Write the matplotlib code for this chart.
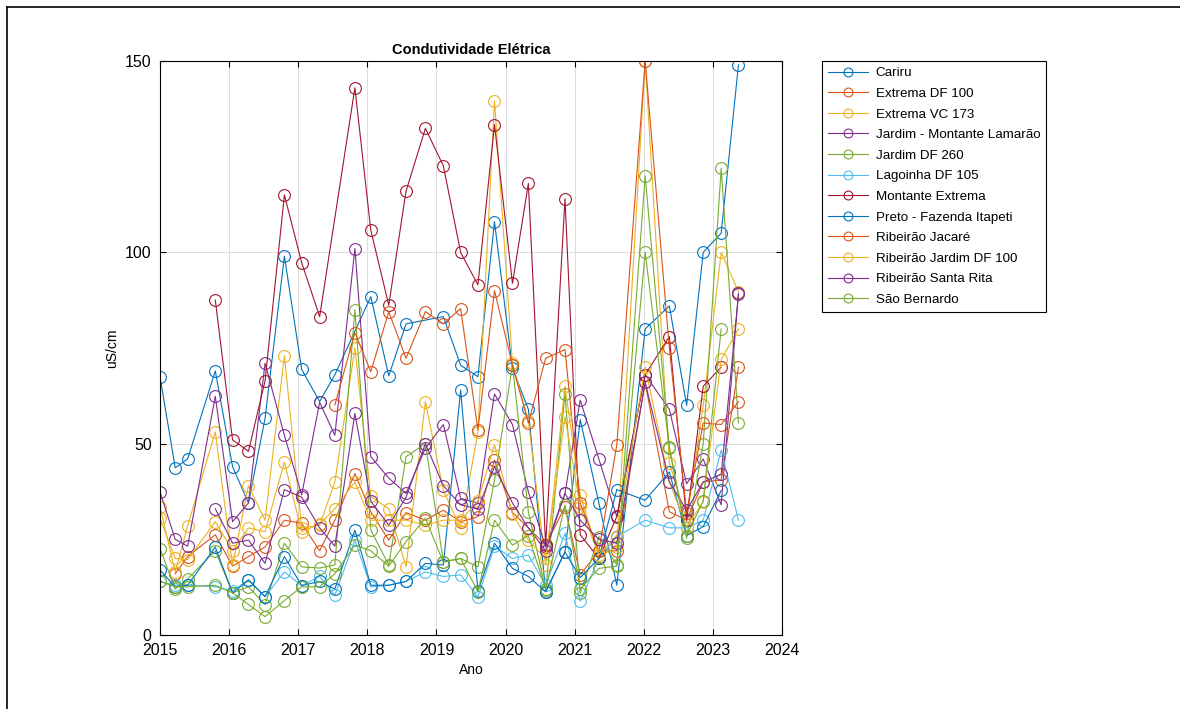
import numpy as np
import matplotlib
matplotlib.use("Agg")
import matplotlib.pyplot as plt
from matplotlib.lines import Line2D

plt.rcParams.update({
    "font.family": ["Liberation Sans", "DejaVu Sans"],
    "axes.linewidth": 0.8,
})

nan = np.nan

# sampling dates (decimal years)
dates = [2015.00, 2015.22, 2015.40, 2015.80, 2016.05, 2016.28, 2016.52, 2016.80,
         2017.05, 2017.31, 2017.53, 2017.82, 2018.05, 2018.31, 2018.56, 2018.84,
         2019.10, 2019.35, 2019.60, 2019.84, 2020.10, 2020.33, 2020.58, 2020.86,
         2021.08, 2021.35, 2021.61, 2022.02, 2022.37, 2022.62, 2022.86, 2023.12,
         2023.37]

stations = ["Cariru", "Extrema DF 100", "Extrema VC 173", "Jardim - Montante Lamarão",
            "Jardim DF 260", "Lagoinha DF 105", "Montante Extrema",
            "Preto - Fazenda Itapeti", "Ribeirão Jacaré", "Ribeirão Jardim DF 100",
            "Ribeirão Santa Rita", "São Bernardo"]

cariru = [67.5, 43.7, 46, 69, 44, 34.5, 56.6, 99, 69.4, 61, 68, nan, 88.4, 67.7, 81.3, nan,
          83.2, 70.5, 67.5, 108, 69.7, 59, 11.3, 21.7, 56.3, 34.5, 13, 80, 86, 60, 100, 105, 149]
extrema_df100 = [nan, 16, 20.5, 26.2, 18, 20.5, 23, 30, 29.2, 22, 30, 42.2, 32.2, 24.8, 32, 30,
                 32.6, 29.6, 30.9, 45.7, 32, 28, 23.5, 33.5, 15.7, 22, 22, 66, 32.2, 30, 40, 40.5, 70]
extrema_vc173 = [33.5, 16.5, 28.5, 53.1, 18.3, 39, 30, 73, 28, 28.7, 40, 75, 36.2, 33, 17.8, 61,
                 37.8, 28, 53, 139.6, 71, 56, 18.3, 65, 36.6, 20.5, 23, 150, 45, 30, 60, 100, 89.7]
jardim_lamarao = [37.4, 25, 23.2, 62.4, 29.6, 34.5, 71, 52.2, 36.6, 60.8, 52.2, 101, 46.6, 41, 37,
                  48.8, 55, 35.7, 34.5, 63, 55, 37.4, 23, 37, 61.4, 46, 30.9, 68, 59, 39.5, 46, 34, 89.3]
jardim_df260 = [22.6, 12, 14.7, 22, 11, 12.6, 7.9, 24, 17.8, 17.5, 18.3, 85, 27.4, 18.3, 46.6, 50,
                19.2, 20, 17.8, 40.5, 70.5, 32.2, 11.8, 63, 10.9, 25.7, 18.3, 120, 48.8, 25.3, 50, 122, 55.4]
lagoinha = [14, 13, 13, 12.6, 11.5, 14.4, 10, 16.5, 12.9, 15.3, 10.4, 24.8, 12.6, 13, 14, 16.5,
            15.3, 15.7, 10, 23.2, 20, 20.9, 13, 26.6, 8.8, 20, 25.7, 30, 28, 28, 30, 48.3, 30]
montante_extrema = [nan, nan, nan, 87.5, 51, 48, 66.4, 115, 97.3, 83.2, nan, 143, 105.8, 86.2, 116,
                    132.4, 122.6, 100, 91.5, 133.4, 91.9, 118, 23.5, 114, 26.2, 20, 31, 68, 78, 30, 65, 70, nan]
preto = [17, 12.6, 13, 23, 11, 14.4, 10, 20.5, 12.9, 14, 12, 27.4, 13, 13, 14, 18.7, 18.3, 64,
         11.5, 24, 17.4, 15.3, 11.3, 21.7, 15, 20, 38, 35.2, 42.6, 26, 28.3, 37.8, nan]
rib_jacare = [nan, nan, nan, nan, nan, nan, nan, nan, nan, nan, 60.1, 79, 68.8, 84.5, 72.3, 84.5,
              81.3, 85.3, 53.6, 90, 70.5, 55.4, 72.3, 74.6, 34.5, 22, 49.7, 150, 75, 32, 55.4, 55, 61]
rib_jardim_df100 = [30.5, 20, 19.7, 29.6, 22, 28, 27, 45.2, 27, 29, 33, 40, 30, 30, 30, 28.7, 30, 30,
                    35, 49.7, 31.5, 24.8, 20, 57, 33.5, 21, 26, 70, 40, 28.3, 34.8, 72, 80]
rib_santa_rita = [nan, nan, nan, 33, 24, 24.8, 18.7, 38, 36, 28, 23.2, 57.9, 35, 28.7, 36, 50,
                  39, 34, 33, 44, 34.5, 28, 22, 37, 30, 25, 24, 66, 40, 32.6, 40, 42, 89]
sao_bernardo = [14, 12.6, 12.6, 13, 11, 8, 4.8, 9, 12.6, 12.6, 16, 23.5, 22, 18, 24.4, 30.5, 19, 20,
                11.3, 30, 23.5, 26, 12, 34, 12, 17.4, 18, 100, 49, 26, 35, 80, nan]

series = [cariru, extrema_df100, extrema_vc173, jardim_lamarao, jardim_df260, lagoinha,
          montante_extrema, preto, rib_jacare, rib_jardim_df100, rib_santa_rita, sao_bernardo]

# MATLAB default color order
matlab_colors = ["#0072BD", "#D95319", "#EDB120", "#7E2F8E", "#77AC30", "#4DBEEE", "#A2142F"]

fig = plt.figure(figsize=(11.8, 7.09), dpi=100)
ax = fig.add_axes([160 / 1180, 74 / 709, 622 / 1180, 574 / 709])

t = np.array(dates)
for i, (name, vals) in enumerate(zip(stations, series)):
    v = np.array(vals, dtype=float)
    ok = np.isfinite(v)
    ax.plot(t[ok], v[ok], "-o", color=matlab_colors[i % 7], mfc="none",
            ms=8.5, lw=0.8, mew=0.8, label=name)

ax.set_xlim(2015, 2024)
ax.set_ylim(0, 150)
ax.set_xticks(range(2015, 2025))
ax.set_yticks([0, 50, 100, 150])
ax.grid(True, color="#dcdcdc", lw=0.7)
ax.set_axisbelow(True)
ax.tick_params(direction="in", length=4, labelsize=11.5, top=True, right=True,
               labeltop=False, labelright=False, pad=6)
ax.set_xlabel("Ano", fontsize=10, labelpad=3)
ax.set_ylabel("uS/cm", fontsize=10, labelpad=4)
ax.set_title("Condutividade Elétrica", fontsize=10.5, fontweight="bold", pad=5)

leg = ax.legend(loc="upper left", bbox_to_anchor=(1.064, 1.0), fontsize=9.6,
                frameon=True, fancybox=False, edgecolor="black", framealpha=1,
                handlelength=3.0, borderaxespad=0, labelspacing=0.62,
                borderpad=0.45, handletextpad=0.6, markerscale=0.75)
leg.get_frame().set_linewidth(0.8)

# screenshot frame on left and top
fig.add_artist(Line2D([7 / 1180, 7 / 1180], [0, 1 - 7 / 709], color="black", lw=1.2))
fig.add_artist(Line2D([7 / 1180, 1], [1 - 7 / 709, 1 - 7 / 709], color="black", lw=1.2))

fig.savefig("out.png", dpi=100)
